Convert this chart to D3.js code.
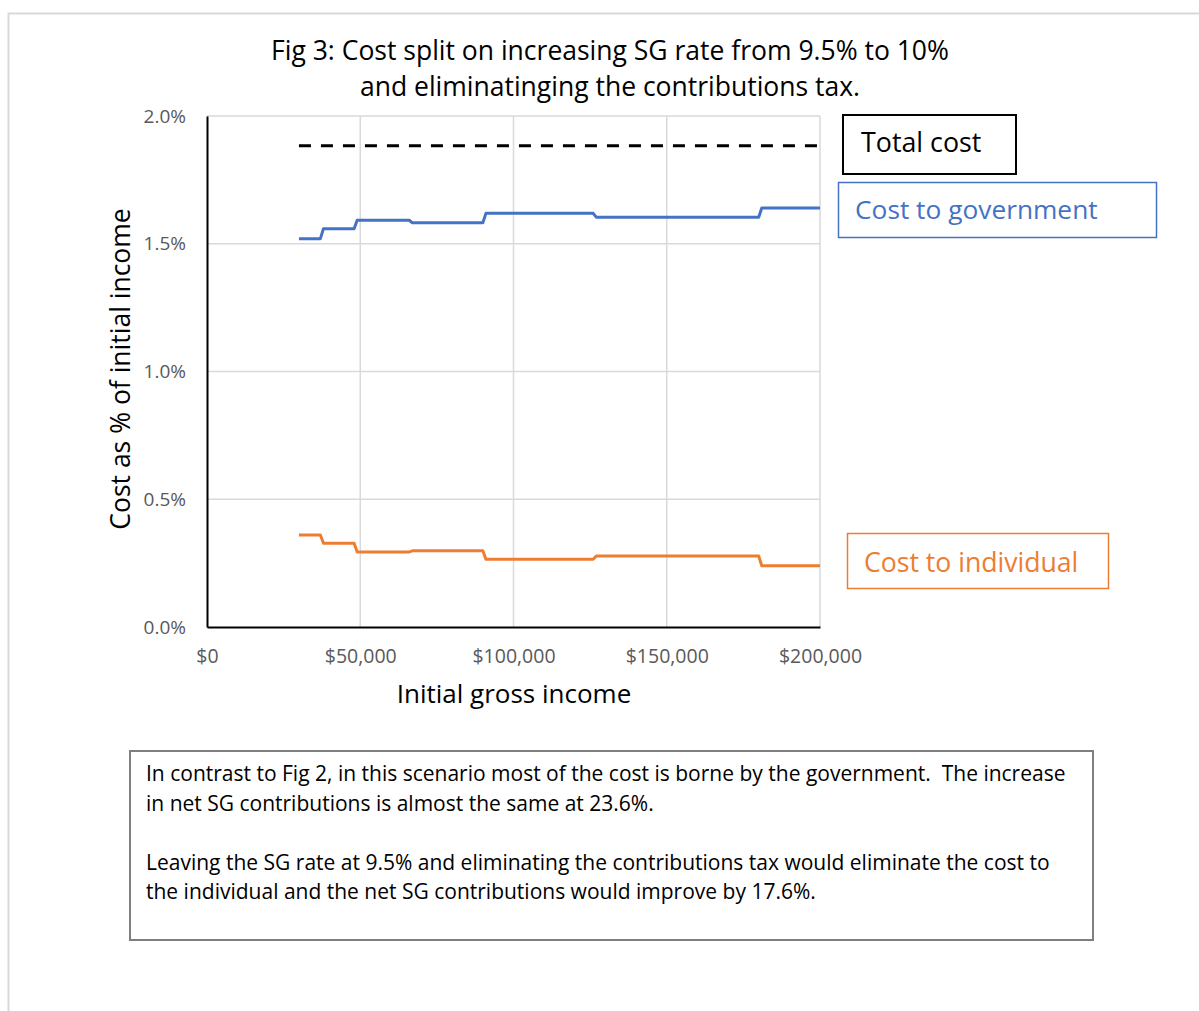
<!DOCTYPE html>
<html>
<head>
<meta charset="utf-8">
<script src="https://cdn.jsdelivr.net/npm/d3@7"></script>
<style>
  html, body { margin: 0; padding: 0; background: #fff; }
  svg { display: block; }
  text { font-family: "Open Sans", "Noto Sans", sans-serif; white-space: pre; }
</style>
</head>
<body>
<svg id="chart" width="1199" height="1011"></svg>
<script>
// Income points (vertices of the stepped cost curves)
const incomes = [30000, 37000, 38000, 48000, 49000, 66000, 67000, 90000, 91000, 126000, 127000, 180000, 181000, 200000];
// Cost to government, % of initial income
const govCost = [1.52, 1.52, 1.559, 1.559, 1.592, 1.592, 1.582, 1.582, 1.619, 1.619, 1.604, 1.604, 1.64, 1.64];
// Cost to individual, % of initial income
const indCost = [0.36, 0.36, 0.328, 0.328, 0.294, 0.294, 0.298, 0.298, 0.265, 0.265, 0.278, 0.278, 0.24, 0.24];
// Total cost, % of initial income
const totalIncomes = [30000, 200000];
const totalCost = [1.884, 1.884];

const xTicks = [0, 50000, 100000, 150000, 200000];
const yTicks = [0, 0.5, 1.0, 1.5, 2.0];

const titleLines = ["Fig 3: Cost split on increasing SG rate from 9.5% to 10%",
                    "and eliminatinging the contributions tax."];
const noteLines = [
  "In contrast to Fig 2, in this scenario most of the cost is borne by the government.  The increase",
  "in net SG contributions is almost the same at 23.6%.",
  "",
  "Leaving the SG rate at 9.5% and eliminating the contributions tax would eliminate the cost to",
  "the individual and the net SG contributions would improve by 17.6%."
];

const BLUE = "#4472C4", ORANGE = "#ED7D31", GRID = "#d9d9d9", TICK = "#595959";

const svg = d3.select("#chart");

// outer frame
svg.append("rect").attr("x", 8.5).attr("y", 13.5).attr("width", 1200).attr("height", 1010)
  .attr("fill", "none").attr("stroke", GRID).attr("stroke-width", 2);

const plot = { left: 207, right: 820, top: 116, bottom: 627 };
const x = d3.scaleLinear().domain([0, 200000]).range([plot.left, plot.right]);
const y = d3.scaleLinear().domain([0, 2.0]).range([plot.bottom, plot.top]);

// title
svg.append("text").attr("text-anchor", "middle").attr("font-size", 26.5).attr("fill", "#000")
  .selectAll("tspan").data(titleLines).join("tspan")
  .attr("x", 610).attr("y", (d, i) => 60 + i * 35.5).text(d => d);

// gridlines
const g = svg.append("g");
g.selectAll("line.hg").data(yTicks.filter(t => t > 0)).join("line")
  .attr("x1", plot.left).attr("x2", plot.right)
  .attr("y1", d => y(d)).attr("y2", d => y(d))
  .attr("stroke", GRID).attr("stroke-width", 1.5);
g.selectAll("line.vg").data(xTicks.filter(t => t > 0)).join("line")
  .attr("y1", plot.top).attr("y2", plot.bottom)
  .attr("x1", d => x(d)).attr("x2", d => x(d))
  .attr("stroke", GRID).attr("stroke-width", 1.5);

// axes
const yAxis = svg.append("g").attr("transform", `translate(${plot.left},0)`)
  .call(d3.axisLeft(y).tickValues(yTicks).tickFormat(d => d3.format(".1f")(d) + "%").tickSize(0).tickPadding(21));
yAxis.select(".domain").attr("stroke", "#000").attr("stroke-width", 2);
yAxis.selectAll("text").attr("font-size", 19).attr("fill", TICK)
  .style("font-family", "'Open Sans', sans-serif");

const xAxis = svg.append("g").attr("transform", `translate(0,${plot.bottom})`)
  .call(d3.axisBottom(x).tickValues(xTicks).tickFormat(d3.format("$,")).tickSize(0).tickPadding(22));
xAxis.select(".domain").attr("stroke", "#000").attr("stroke-width", 2);
xAxis.selectAll("text").attr("font-size", 19.5).attr("fill", TICK)
  .style("font-family", "'Open Sans', sans-serif");

// axis titles
svg.append("text").attr("transform", "translate(130,369) rotate(-90)")
  .attr("text-anchor", "middle").attr("font-size", 26.5).attr("fill", "#000")
  .text("Cost as % of initial income");
svg.append("text").attr("x", 514).attr("y", 703).attr("text-anchor", "middle")
  .attr("font-size", 26).attr("fill", "#000").text("Initial gross income");

// series
const line = d3.line().x(d => x(d[0])).y(d => y(d[1]));
svg.append("path").datum(d3.zip(totalIncomes, totalCost)).attr("d", line)
  .attr("fill", "none").attr("stroke", "#000").attr("stroke-width", 3).attr("stroke-dasharray", "12,10");
svg.append("path").datum(d3.zip(incomes, govCost)).attr("d", line)
  .attr("fill", "none").attr("stroke", BLUE).attr("stroke-width", 3).attr("stroke-linejoin", "round");
svg.append("path").datum(d3.zip(incomes, indCost)).attr("d", line)
  .attr("fill", "none").attr("stroke", ORANGE).attr("stroke-width", 3).attr("stroke-linejoin", "round");

// labels in boxes
function labelBox(bx, by, bw, bh, color, sw, txt, tx, ty, fs) {
  svg.append("rect").attr("x", bx).attr("y", by).attr("width", bw).attr("height", bh)
    .attr("fill", "#fff").attr("stroke", color).attr("stroke-width", sw);
  svg.append("text").attr("x", tx).attr("y", ty).attr("font-size", fs).attr("fill", color).text(txt);
}
labelBox(843, 115, 173, 59, "#000", 2, "Total cost", 861, 152, 26.8);
labelBox(838.5, 182.5, 318, 55, BLUE, 1.5, "Cost to government", 855, 219, 26.3);
labelBox(847.5, 533.5, 261, 55, ORANGE, 1.5, "Cost to individual", 864, 572, 26.6);

// note box
svg.append("rect").attr("x", 130).attr("y", 751).attr("width", 963).attr("height", 189)
  .attr("fill", "#fff").attr("stroke", "#7f7f7f").attr("stroke-width", 2);
svg.append("text").attr("font-size", 21).attr("fill", "#000")
  .selectAll("tspan").data(noteLines).join("tspan")
  .attr("x", 146).attr("y", (d, i) => 781 + i * 29.5).text(d => d);
</script>
</body>
</html>
